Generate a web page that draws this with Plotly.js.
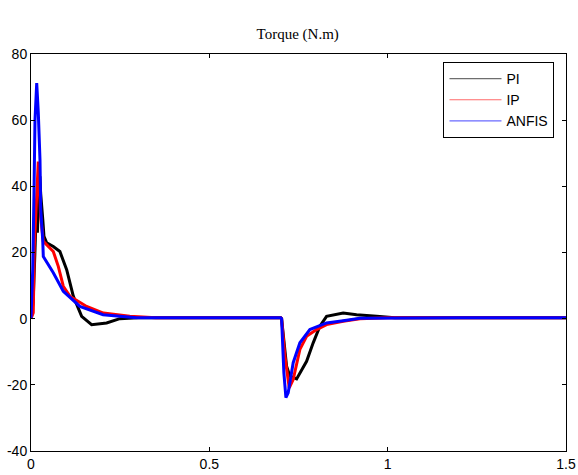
<!DOCTYPE html>
<html>
<head>
<meta charset="utf-8">
<script src="https://cdn.plot.ly/plotly-3.0.1.min.js"></script>
<style>html,body{margin:0;padding:0;background:#fff;}#chart{width:578px;height:475px;}</style>
</head>
<body>
<div id="chart"></div>
<script>
// PI controller torque
const piTime = [0, 0.006, 0.011, 0.014, 0.018, 0.0224, 0.025, 0.027, 0.033, 0.0364, 0.044, 0.0625, 0.081, 0.1, 0.1186, 0.142, 0.17, 0.212, 0.249, 0.3, 0.5, 0.7, 0.7026, 0.7166, 0.7259, 0.7447, 0.7727, 0.7912, 0.81, 0.8287, 0.8753, 0.9128, 0.969, 1.02, 1.2, 1.5];
const piTorque = [0, 5, 20, 30, 26, 42, 43, 38, 30, 24.9, 22.9, 21.8, 20.3, 14.8, 6.8, 0.7, -1.8, -1.3, 0, 0.3, 0.3, 0.3, 0, -14.4, -17.4, -18.2, -12.9, -7.3, -2.3, 0.7, 1.7, 1.2, 0.7, 0.3, 0.3, 0.3];
// IP controller torque
const ipTime = [0, 0.0064, 0.0093, 0.014, 0.0177, 0.0205, 0.027, 0.0345, 0.0625, 0.0765, 0.0905, 0.109, 0.156, 0.203, 0.277, 0.35, 0.5, 0.7, 0.7026, 0.7119, 0.724, 0.7351, 0.7539, 0.7727, 0.8007, 0.8287, 0.8753, 0.922, 1.0, 1.2, 1.5];
const ipTorque = [0, 1.8, 21.8, 35, 43, 47.5, 30.9, 23.4, 20.3, 15.8, 9.8, 6.8, 3.7, 1.7, 0.7, 0.3, 0.3, 0.3, 0, -11.3, -20.9, -18.4, -9.3, -5.3, -3.3, -1.8, -0.8, 0, 0.3, 0.3, 0.3];
// ANFIS controller torque
const anfisTime = [0, 0.0048, 0.0084, 0.0112, 0.016, 0.0205, 0.0252, 0.0272, 0.0328, 0.0345, 0.0625, 0.0905, 0.137, 0.202, 0.296, 0.5, 0.7, 0.7026, 0.709, 0.7147, 0.7211, 0.7351, 0.7539, 0.7819, 0.8287, 0.8753, 0.922, 1.2, 1.5];
const anfisTorque = [0, 14.8, 38, 60, 71.2, 62.2, 48, 33, 23.9, 18.8, 13.9, 8.3, 3.7, 1.2, 0.3, 0.3, 0.3, 0, -16.4, -23.9, -22.4, -13.3, -7.3, -3.3, -1.3, -0.6, 0.1, 0.3, 0.3];

const seriesNames = ['PI', 'IP', 'ANFIS'];
const seriesColors = ['#000000', '#ff0000', '#0000ff'];
const legendColors = ['#6e6e6e', '#ff6a6a', '#6a6aff'];
const xTicks = [0, 0.5, 1, 1.5];
const xTickText = ['0', '0.5', '1', '1.5'];
const yTicks = [-40, -20, 0, 20, 40, 60, 80];
const yTickText = ['-40', '-20', '0', '20', '40', '60', '80'];

const xs = [piTime, ipTime, anfisTime];
const ys = [piTorque, ipTorque, anfisTorque];

const traces = [];
for (let i = 0; i < 3; i++) {
  traces.push({
    x: xs[i], y: ys[i], type: 'scatter', mode: 'lines',
    line: {color: seriesColors[i], width: 3}, showlegend: false, hoverinfo: 'skip'
  });
}
for (let i = 0; i < 3; i++) {
  traces.push({
    x: [null], y: [null], type: 'scatter', mode: 'lines', name: seriesNames[i],
    line: {color: legendColors[i], width: 1.2}, showlegend: true
  });
}

const axisCommon = {
  showgrid: false, zeroline: false, showline: true, linecolor: '#000', linewidth: 1,
  mirror: 'ticks', ticks: 'inside', ticklen: 4, tickcolor: '#000', tickwidth: 1,
  tickfont: {family: 'Liberation Sans, Arial, sans-serif', size: 14, color: '#000'}
};

const layout = {
  width: 578, height: 475,
  margin: {l: 31, r: 12, t: 54, b: 24},
  paper_bgcolor: '#fff', plot_bgcolor: '#fff',
  title: {text: 'Torque (N.m)', x: 0.515, xanchor: 'center', y: 0.928, yanchor: 'middle',
    font: {family: 'Liberation Serif, Times New Roman, serif', size: 15, color: '#000'}},
  xaxis: Object.assign({}, axisCommon, {range: [0, 1.5], tickvals: xTicks, ticktext: xTickText, ticklabelstandoff: 0}),
  yaxis: Object.assign({}, axisCommon, {range: [-40, 80], tickvals: yTicks, ticktext: yTickText, ticklabelstandoff: 0}),
  legend: {x: 0.771, y: 0.98, xanchor: 'left', yanchor: 'top', bgcolor: '#fff', bordercolor: '#000', borderwidth: 1,
    font: {family: 'Liberation Sans, Arial, sans-serif', size: 14, color: '#000'}, tracegroupgap: 0, itemwidth: 52},
  showlegend: true
};

Plotly.newPlot('chart', traces, layout, {displayModeBar: false, staticPlot: true});
</script>
</body>
</html>
